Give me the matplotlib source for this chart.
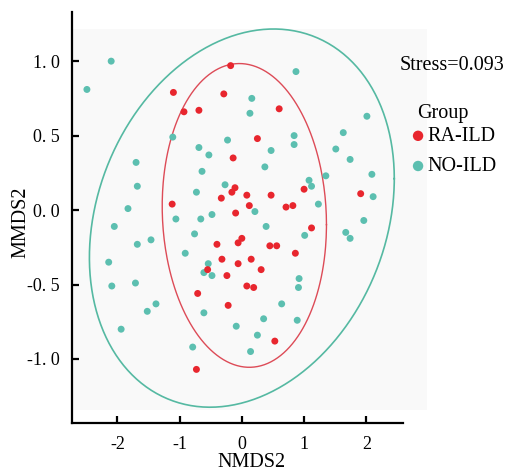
import matplotlib.pyplot as plt
import numpy as np
from matplotlib.patches import Rectangle

# NMDS scores
ra_x = [-1.10, -0.29, -0.18, -0.93, -0.69, -0.14, 0.60, 0.25, -0.11, -0.16,
        -0.33, -1.12, -0.10, 0.00, -0.06, -0.40, -0.32, -0.06, -0.55, -0.24,
        -0.71, -0.22, -0.73, 0.08, 0.47, 1.91, 1.00, 0.12, 0.71, 0.82,
        1.12, 0.45, 0.56, 0.86, 0.15, 0.31, 0.08, 0.19, 0.53]
ra_y = [0.79, 0.78, 0.97, 0.66, 0.67, 0.35, 0.68, 0.48, 0.15, 0.12,
        0.08, 0.04, -0.02, -0.19, -0.22, -0.23, -0.33, -0.36, -0.40, -0.44,
        -0.56, -0.64, -1.07, 0.10, 0.10, 0.11, 0.14, 0.03, 0.02, 0.03,
        -0.12, -0.24, -0.24, -0.29, -0.33, -0.40, -0.51, -0.52, -0.88]

no_x = [-2.10, -2.49, -1.11, -0.23, -0.69, -0.53, -1.70, 0.87, 0.16, 0.13,
        2.01, 0.84, 0.84, 1.63, 0.47, 1.51, 1.74, 0.37, 1.35, 2.09,
        1.08, 1.12, 2.11, 0.21, 1.23, 1.96, 1.67, 1.74, 0.39, 1.01,
        -0.64, -1.68, -0.27, -0.73, -1.83, -0.48, -1.06, -0.66, -2.05, -0.76,
        -1.68, -1.46, -0.91, -2.14, -0.54, -0.61, -0.48, -2.09, -1.71, -1.38,
        -1.52, -0.61, -0.09, -1.94, -0.79, 0.92, 0.91, 0.64, 0.35, 0.89,
        0.25, 0.14]
no_y = [1.00, 0.81, 0.49, 0.47, 0.42, 0.37, 0.32, 0.93, 0.75, 0.65,
        0.63, 0.50, 0.44, 0.52, 0.40, 0.41, 0.34, 0.29, 0.23, 0.24,
        0.20, 0.16, 0.09, -0.01, 0.04, -0.07, -0.15, -0.19, -0.11, -0.17,
        0.26, 0.16, 0.17, 0.12, 0.01, -0.03, -0.06, -0.06, -0.11, -0.16,
        -0.23, -0.20, -0.29, -0.35, -0.36, -0.42, -0.44, -0.51, -0.49, -0.63,
        -0.68, -0.69, -0.78, -0.80, -0.92, -0.46, -0.52, -0.63, -0.73, -0.74,
        -0.84, -0.95]

# ellipse summaries (centre, half x-extent, shear, half y)
ra_ell = dict(cx=0.04, cy=-0.036, ax=1.32, k=-0.062, m=1.018)
no_ell = dict(cx=0.0, cy=-0.054, ax=2.45, k=0.265, m=1.242)

xticks = [-2, -1, 0, 1, 2]
yticks = [-1.0, -0.5, 0.0, 0.5, 1.0]
ytick_labels = ['-1. 0', '-0. 5', '0. 0', '0. 5', '1. 0']

red = '#E8262E'
green = '#5CBFB0'

plt.rcParams['font.family'] = ['Liberation Serif', 'DejaVu Serif']
plt.rcParams['axes.unicode_minus'] = False

fig = plt.figure(figsize=(5.08, 4.73), dpi=100)
# faint grey panel behind the points
fig.patches.append(Rectangle((0.1437, 0.1332), 0.697, 0.8055, transform=fig.transFigure,
                             facecolor='#f9f9f9', edgecolor='none', zorder=-5))
ax = fig.add_axes([0.1417, 0.1057, 0.6516, 0.8689])
ax.set_zorder(2)
ax.patch.set_visible(False)

def ellipse(e):
    t = np.linspace(0, 2*np.pi, 300)
    return e['cx'] + e['ax']*np.cos(t), e['cy'] + e['k']*np.cos(t) + e['m']*np.sin(t)

ex, ey = ellipse(no_ell)
ax.plot(ex, ey, color='#55B9A2', lw=1.2)
ex, ey = ellipse(ra_ell)
ax.plot(ex, ey, color='#DD4B57', lw=1.0)

ax.scatter(no_x, no_y, s=25, color=green, edgecolors='none', label='NO-ILD', zorder=3)
ax.scatter(ra_x, ra_y, s=25, color=red, edgecolors='none', label='RA-ILD', zorder=3)

ax.set_xlim(-2.73, 2.59)
ax.set_ylim(-1.43, 1.33)

ax.spines['right'].set_visible(False)
ax.spines['top'].set_visible(False)
ax.spines['left'].set_linewidth(1.6)
ax.spines['bottom'].set_linewidth(1.6)

ax.set_xticks(xticks)
ax.set_yticks(yticks)
ax.set_yticklabels(ytick_labels)
ax.tick_params(direction='in', length=5, width=1.6, labelsize=13, pad=9)

fig.text(252/508, 1-462/473, 'NMDS2', ha='center', va='center', fontsize=14.5)
fig.text(21/508, 1-222/473, 'MMDS2', ha='center', va='center', rotation=90, fontsize=14.5)
fig.text(400/508, 1-65/473, 'Stress=0.093', ha='left', va='center', fontsize=14.5)
fig.text(417/508, 1-113/473, 'Group', ha='left', va='center', fontsize=14.5)

h, l = ax.get_legend_handles_labels()
leg = ax.legend(h[::-1], l[::-1], loc='upper left',
                bbox_to_anchor=(409/508, 1-127/473), bbox_transform=fig.transFigure,
                frameon=False, fontsize=14.5, markerscale=1.5,
                handletextpad=0.0, handlelength=0.9, labelspacing=0.55,
                borderaxespad=0, borderpad=0)

fig.savefig('out.png', dpi=100)
